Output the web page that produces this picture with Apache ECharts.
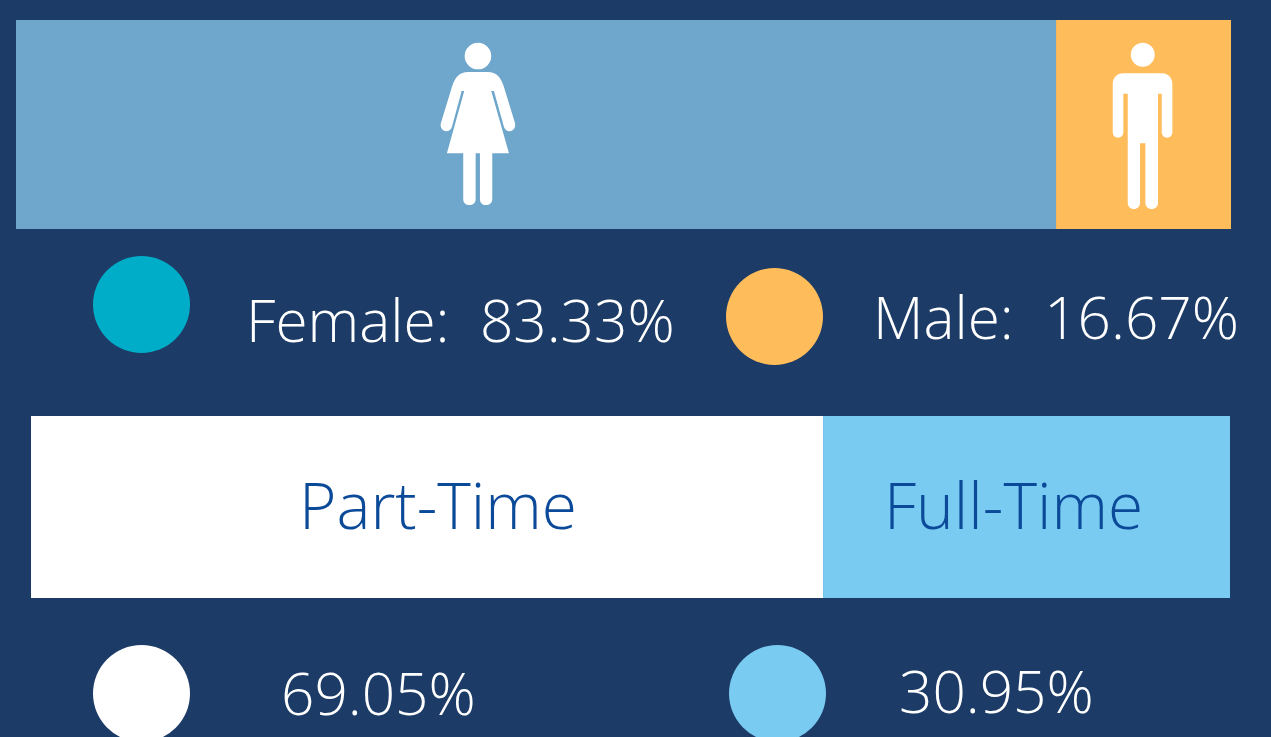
<!DOCTYPE html>
<html>
<head>
<meta charset="utf-8">
<title>Gender and employment split</title>
<script src="https://cdn.jsdelivr.net/npm/echarts@6/dist/echarts.min.js"></script>
<style>
  html, body { margin: 0; padding: 0; background: #1c3b66; overflow: hidden; }
  #chart { width: 1271px; height: 737px; }
</style>
</head>
<body>
<div id="chart"></div>
<script>
// widths of the bar segments as drawn (they differ a bit from the printed percentages)
const genderNames = ["Female", "Male"];
const genderBar = [85.6, 14.4];
const genderPct = ["83.33%", "16.67%"];
const jobNames = ["Part-Time", "Full-Time"];
const jobBar = [66.06, 33.94];
const jobPct = ["69.05%", "30.95%"];

const FONT = "Open Sans";
const womanPath = "path://M464.7 56A13.3 13.3 0 1 1 491.3 56A13.3 13.3 0 1 1 464.7 56ZM468 72L488 72C496 72 501 77 504 87L515 123C516 127 514 130 511 131C508 132 505 130 504 127L494 91L491.3 91L509 153.3L492.3 153.3L492.3 199C492.3 203 489.5 205 486 205C482.5 205 480 203 480 199L480 153.3L475.7 153.3L475.7 199C475.7 203 473 205 469.5 205C466 205 463.3 203 463.3 199L463.3 153.3L447 153.3L464.3 91L461.7 91L452 127C451 130 448 132 445 131C442 130 440 127 441 123L452 87C455 77 460 72 468 72Z";
const manPath = "path://M1130.7 54.7A12 12 0 1 1 1154.7 54.7A12 12 0 1 1 1130.7 54.7ZM1123 73.3L1162 73.3C1168 73.3 1172.3 78 1172.3 84L1172.3 132C1172.3 135.5 1170 137.7 1167 137.7C1164 137.7 1161.7 135.5 1161.7 132L1161.7 93.7L1158 93.7L1158 202.5C1158 206.5 1155.5 209 1151.7 209C1148 209 1145.3 206.5 1145.3 202.5L1145.3 143.3L1140 143.3L1140 202.5C1140 206.5 1137.5 209 1133.8 209C1130 209 1127.7 206.5 1127.7 202.5L1127.7 93.7L1123.3 93.7L1123.3 132C1123.3 135.5 1121 137.7 1118 137.7C1115 137.7 1112.7 135.5 1112.7 132L1112.7 84C1112.7 78 1117 73.3 1123 73.3Z";

function circle(cx, cy, color) {
  return { type: "circle", shape: { cx: cx, cy: cy, r: 48.5 }, style: { fill: color } };
}
function caption(x, y, str) {
  return {
    type: "text", x: x, y: y,
    style: { text: str, fill: "#fff", font: "300 58.5px '" + FONT + "'", textVerticalAlign: "middle" }
  };
}
function segment(name, value, color, stack, axis, label) {
  return {
    name: name, type: "bar", stack: stack, xAxisIndex: axis, yAxisIndex: axis,
    barWidth: "100%", silent: true,
    itemStyle: { color: color }, data: [value], label: label
  };
}
function jobLabel(str, dx) {
  return {
    show: true, position: "inside", offset: [dx, 4], formatter: str,
    color: "#0b4a99", fontFamily: FONT, fontWeight: 300, fontSize: 64
  };
}
function icon(path, x, size, dy) {
  return {
    type: "scatter", silent: true, symbol: path, symbolSize: size, symbolOffset: [0, dy],
    itemStyle: { color: "#fff", opacity: 1 }, data: [[x, 0]], z: 5
  };
}
function axes(i) {
  return {
    x: { gridIndex: i, type: "value", min: 0, max: 100, show: false },
    y: { gridIndex: i, type: "category", data: [""], show: false }
  };
}

const chart = echarts.init(document.getElementById("chart"));
chart.setOption({
  backgroundColor: "#1c3b66",
  animation: false,
  grid: [
    { left: 16, top: 20, width: 1215, height: 209 },
    { left: 31, top: 416, width: 1199, height: 182 }
  ],
  xAxis: [axes(0).x, axes(1).x],
  yAxis: [axes(0).y, axes(1).y],
  series: [
    segment(genderNames[0], genderBar[0], "#6ea6cc", "gender", 0),
    segment(genderNames[1], genderBar[1], "#ffbc5a", "gender", 0),
    segment(jobNames[0], jobBar[0], "#ffffff", "job", 1, jobLabel(jobNames[0], 11)),
    segment(jobNames[1], jobBar[1], "#7acbf2", "job", 1, jobLabel(jobNames[1], -13)),
    icon(womanPath, 38.02, [74.6, 162.3], -0.6),
    icon(manPath, 92.72, [59.6, 166.3], 1.4)
  ],
  graphic: [
    circle(141.5, 304.5, "#00adc8"),
    caption(246, 325, genderNames[0] + ":  " + genderPct[0]),
    circle(774.5, 316.5, "#ffbc5a"),
    caption(873, 322, genderNames[1] + ":  " + genderPct[1]),
    circle(141.5, 693.5, "#ffffff"),
    caption(281, 698, jobPct[0]),
    circle(777.5, 693.5, "#7acbf2"),
    caption(899, 696, jobPct[1])
  ]
});
</script>
</body>
</html>
